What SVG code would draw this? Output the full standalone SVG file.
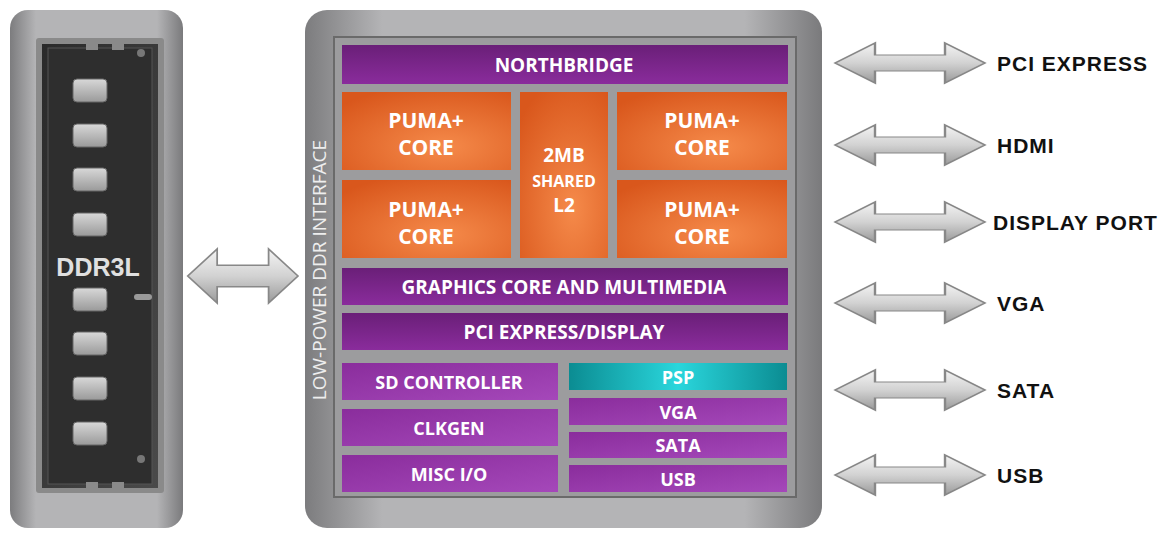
<svg xmlns="http://www.w3.org/2000/svg" width="1169" height="539" viewBox="0 0 1169 539">
<defs>
<linearGradient id="gframe" x1="0" y1="0" x2="1" y2="0"><stop offset="0" stop-color="#7c7c7e"/><stop offset="0.15" stop-color="#b4b4b6"/><stop offset="0.85" stop-color="#b4b4b6"/><stop offset="1" stop-color="#7a7a7c"/></linearGradient>
<linearGradient id="gdark" x1="0" y1="0" x2="1" y2="1"><stop offset="0" stop-color="#2a2a2a"/><stop offset="1" stop-color="#4a4a4a"/></linearGradient>
<linearGradient id="gpurp" x1="0" y1="0" x2="0" y2="1"><stop offset="0" stop-color="#6a1f78"/><stop offset="1" stop-color="#8a2c9c"/></linearGradient>
<linearGradient id="gpurp2" x1="0" y1="0" x2="1" y2="1"><stop offset="0" stop-color="#8a2d9c"/><stop offset="1" stop-color="#a548ba"/></linearGradient>
<radialGradient id="gorange" cx="0.6" cy="0.7" r="0.8"><stop offset="0" stop-color="#f58a4a"/><stop offset="1" stop-color="#d9571c"/></radialGradient>
<linearGradient id="gpsp" x1="0" y1="0" x2="1" y2="0"><stop offset="0" stop-color="#0b8c92"/><stop offset="0.5" stop-color="#2ad6dc"/><stop offset="1" stop-color="#0b8c92"/></linearGradient>
<linearGradient id="garrow" x1="0" y1="0" x2="0" y2="1"><stop offset="0" stop-color="#f4f4f4"/><stop offset="0.5" stop-color="#d2d2d2"/><stop offset="1" stop-color="#9a9a9a"/></linearGradient>
<linearGradient id="gchip" x1="0" y1="0" x2="0" y2="1"><stop offset="0" stop-color="#d8d8d8"/><stop offset="1" stop-color="#9a9a9a"/></linearGradient>
<path id="arr" d="M0,0 L-20,-20 L-20,-8 L-55,-8 L-55,-20 L-75,0 L-55,20 L-55,8 L-20,8 L-20,20 Z"/>
</defs>
<style>
.t{font-family:"Open Sans","Liberation Sans",sans-serif;font-weight:bold;fill:#fff;text-anchor:middle}
.lbl{font-family:"Liberation Sans",Arial,sans-serif;font-weight:bold;font-size:21px;letter-spacing:1px;fill:#111}
.arrow{fill:url(#garrow);stroke:#888;stroke-width:1.2}
.chip{fill:url(#gchip);stroke:#666;stroke-width:1}
</style>
<rect width="1169" height="539" fill="#fff"/>
<g id="ddr3l">
<rect x="10" y="10" width="173" height="518" rx="18" fill="url(#gframe)"/>
<rect x="36" y="38" width="128" height="455" rx="3" fill="#8a8a8a"/>
<rect x="42" y="44" width="116" height="444" fill="url(#gdark)"/>
<rect x="48" y="48" width="104" height="436" fill="#2e2e2e" stroke="#555"/>
<rect x="86" y="44" width="12" height="6" fill="#8a8a8a"/><rect x="112" y="44" width="12" height="6" fill="#8a8a8a"/>
<rect x="86" y="482" width="12" height="6" fill="#8a8a8a"/><rect x="112" y="482" width="12" height="6" fill="#8a8a8a"/>
<circle cx="141" cy="53" r="4" fill="#777"/><circle cx="141" cy="459" r="4" fill="#777"/>
<rect x="134" y="294" width="18" height="6" rx="3" fill="#999"/>
<rect class="chip" x="73" y="79" width="34" height="23" rx="4"/>
<rect class="chip" x="73" y="124" width="34" height="23" rx="4"/>
<rect class="chip" x="73" y="168" width="34" height="23" rx="4"/>
<rect class="chip" x="73" y="213" width="34" height="23" rx="4"/>
<rect class="chip" x="73" y="288" width="34" height="23" rx="4"/>
<rect class="chip" x="73" y="332" width="34" height="23" rx="4"/>
<rect class="chip" x="73" y="377" width="34" height="23" rx="4"/>
<rect class="chip" x="73" y="422" width="34" height="23" rx="4"/>
<text x="98" y="276" font-family="Liberation Sans,sans-serif" font-weight="bold" font-size="25" fill="#e0e0e0" text-anchor="middle">DDR3L</text>
</g>
<g id="connectors">
<use href="#arr" class="arrow" transform="translate(298,276) scale(1.47,1.35)"/>
<use href="#arr" class="arrow" transform="translate(985,63) scale(2,1)"/>
<use href="#arr" class="arrow" transform="translate(985,145) scale(2,1)"/>
<use href="#arr" class="arrow" transform="translate(985,222) scale(2,1)"/>
<use href="#arr" class="arrow" transform="translate(985,303) scale(2,1)"/>
<use href="#arr" class="arrow" transform="translate(985,390) scale(2,1)"/>
<use href="#arr" class="arrow" transform="translate(985,475) scale(2,1)"/>
</g>
<g id="labels">
<text class="lbl" x="997" y="71">PCI EXPRESS</text>
<text class="lbl" x="997" y="153">HDMI</text>
<text class="lbl" x="993" y="230">DISPLAY PORT</text>
<text class="lbl" x="997" y="311">VGA</text>
<text class="lbl" x="997" y="398">SATA</text>
<text class="lbl" x="997" y="483">USB</text>
</g>
<g id="soc">
<rect x="305" y="10" width="517" height="518" rx="22" fill="url(#gframe)"/>
<rect x="334" y="37" width="462" height="460" fill="#9c9c9e" stroke="#6a6a6a" stroke-width="2"/>
<text transform="translate(326,270) rotate(-90)" font-family="Open Sans,Liberation Sans,sans-serif" font-size="19" fill="#eee" text-anchor="middle">LOW-POWER DDR INTERFACE</text>
</g>
<g id="northbridge"><rect x="342" y="45" width="446" height="39" fill="url(#gpurp)"/><text class="t" x="564" y="72" font-size="19">NORTHBRIDGE</text></g>
<g id="core1"><rect x="342" y="92" width="169" height="78" fill="url(#gorange)"/><text class="t" x="426" y="128" font-size="21">PUMA+</text><text class="t" x="426" y="155" font-size="21">CORE</text></g>
<g id="core2"><rect x="342" y="180" width="169" height="78" fill="url(#gorange)"/><text class="t" x="426" y="217" font-size="21">PUMA+</text><text class="t" x="426" y="244" font-size="21">CORE</text></g>
<g id="l2"><rect x="520" y="92" width="88" height="166" fill="url(#gorange)"/><text class="t" x="564" y="162" font-size="19">2MB</text><text class="t" x="564" y="187" font-size="16">SHARED</text><text class="t" x="564" y="212" font-size="19">L2</text></g>
<g id="core3"><rect x="617" y="92" width="170" height="78" fill="url(#gorange)"/><text class="t" x="702" y="128" font-size="21">PUMA+</text><text class="t" x="702" y="155" font-size="21">CORE</text></g>
<g id="core4"><rect x="617" y="180" width="170" height="78" fill="url(#gorange)"/><text class="t" x="702" y="217" font-size="21">PUMA+</text><text class="t" x="702" y="244" font-size="21">CORE</text></g>
<g id="graphics"><rect x="342" y="268" width="446" height="37" fill="url(#gpurp)"/><text class="t" x="564" y="294" font-size="19">GRAPHICS CORE AND MULTIMEDIA</text></g>
<g id="pcie"><rect x="342" y="313" width="446" height="37" fill="url(#gpurp)"/><text class="t" x="564" y="339" font-size="19">PCI EXPRESS/DISPLAY</text></g>
<g id="sd"><rect x="342" y="363" width="216" height="37" fill="url(#gpurp2)"/><text class="t" x="449" y="389" font-size="18">SD CONTROLLER</text></g>
<g id="clkgen"><rect x="342" y="409" width="216" height="37" fill="url(#gpurp2)"/><text class="t" x="449" y="435" font-size="18">CLKGEN</text></g>
<g id="misc"><rect x="342" y="455" width="216" height="37" fill="url(#gpurp2)"/><text class="t" x="449" y="481" font-size="18">MISC I/O</text></g>
<g id="psp"><rect x="569" y="363" width="218" height="27" fill="url(#gpsp)"/><text class="t" x="678" y="384" font-size="18">PSP</text></g>
<g id="vga"><rect x="569" y="398" width="218" height="27" fill="url(#gpurp2)"/><text class="t" x="678" y="419" font-size="18">VGA</text></g>
<g id="sata"><rect x="569" y="432" width="218" height="26" fill="url(#gpurp2)"/><text class="t" x="678" y="452" font-size="18">SATA</text></g>
<g id="usb"><rect x="569" y="465" width="218" height="27" fill="url(#gpurp2)"/><text class="t" x="678" y="486" font-size="18">USB</text></g>
</svg>
